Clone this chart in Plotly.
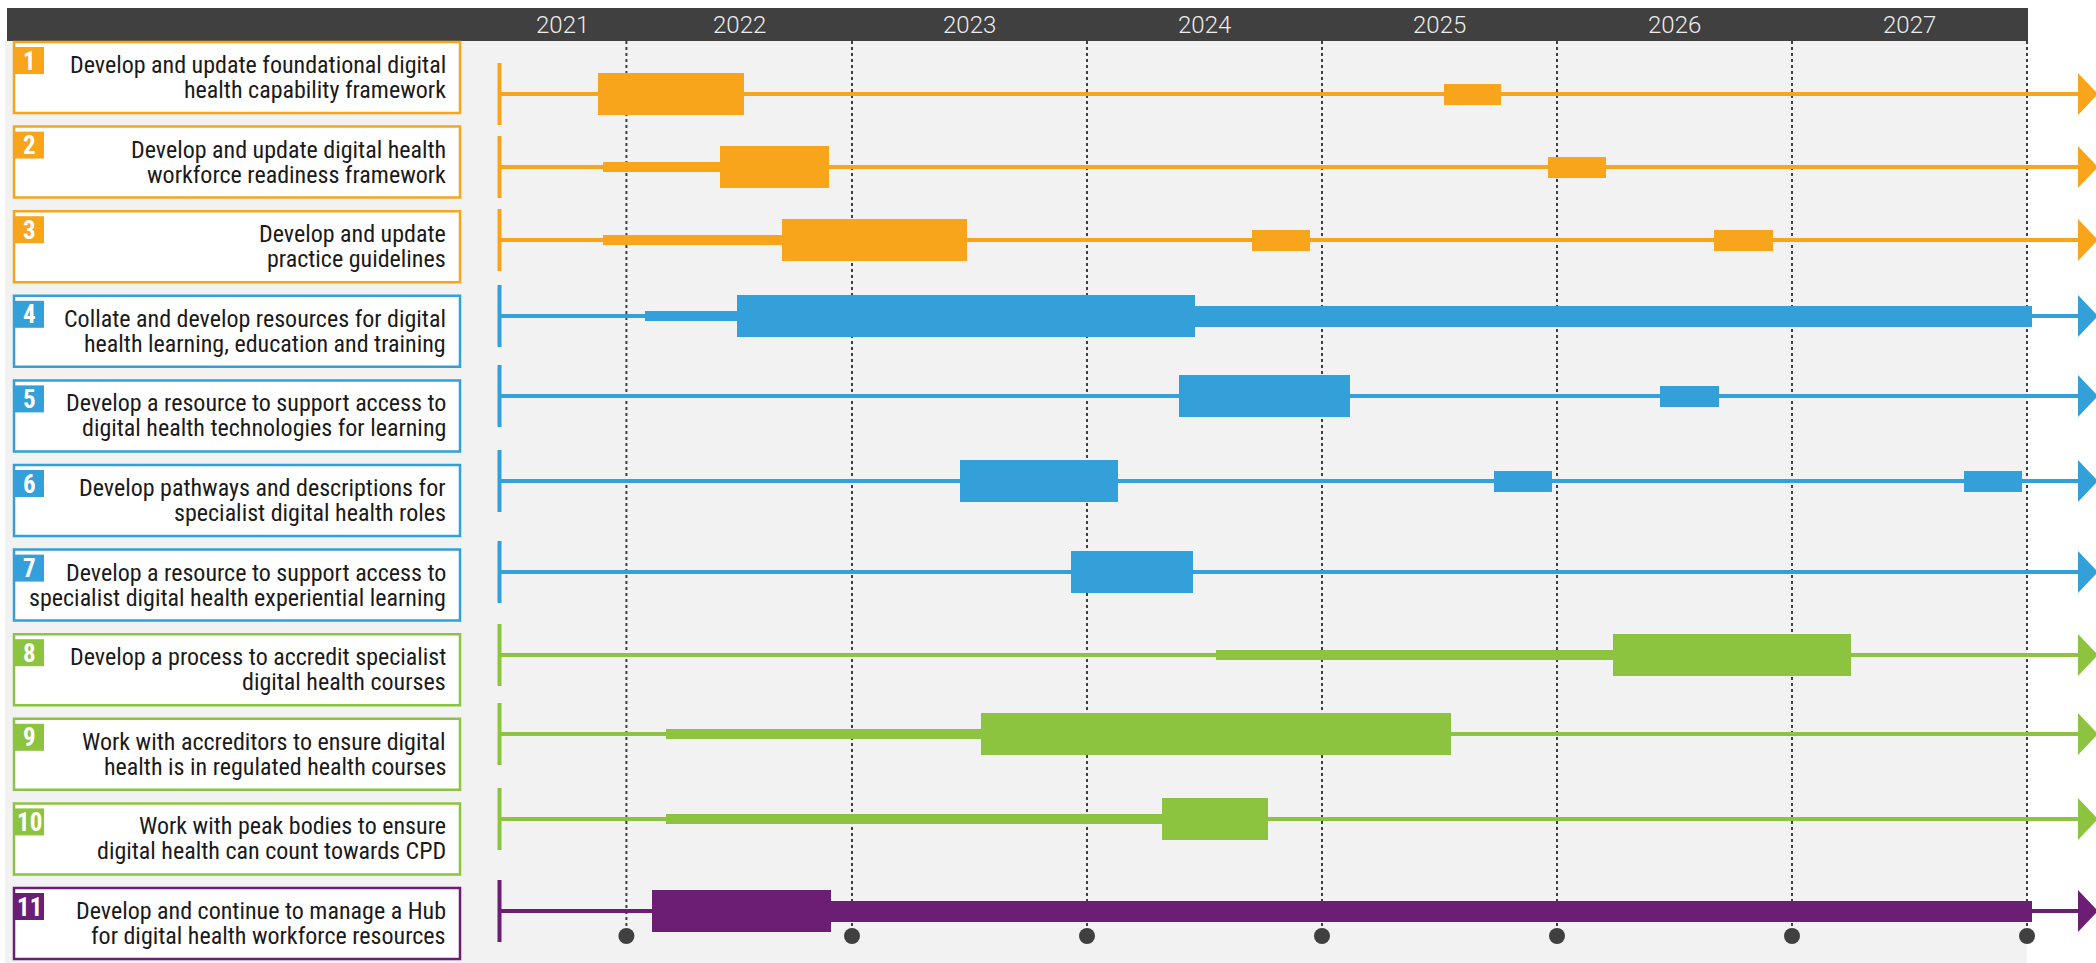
import plotly.graph_objects as go

# ---------------- data ----------------
task_ids = ["1", "2", "3", "4", "5", "6", "7", "8", "9", "10", "11"]
task_line1 = [
    "Develop and update foundational digital",
    "Develop and update digital health",
    "Develop and update",
    "Collate and develop resources for digital",
    "Develop a resource to support access to",
    "Develop pathways and descriptions for",
    "Develop a resource to support access to",
    "Develop a process to accredit specialist",
    "Work with accreditors to ensure digital",
    "Work with peak bodies to ensure",
    "Develop and continue to manage a Hub",
]
task_line2 = [
    "health capability framework",
    "workforce readiness framework",
    "practice guidelines",
    "health learning, education and training",
    "digital health technologies for learning",
    "specialist digital health roles",
    "specialist digital health experiential learning",
    "digital health courses",
    "health is in regulated health courses",
    "digital health can count towards CPD",
    "for digital health workforce resources",
]
task_group = ["foundation", "foundation", "foundation",
              "learning", "learning", "learning", "learning",
              "accreditation", "accreditation", "accreditation",
              "hub"]

# activity phases (task index, start year, end year, intensity)
phase_task = [0, 0,
              1, 1, 1,
              2, 2, 2, 2,
              3, 3, 3,
              4, 4,
              5, 5, 5,
              6,
              7, 7,
              8, 8,
              9, 9,
              10, 10]
phase_start = [2021.92, 2025.52,
               2021.94, 2022.44, 2025.96,
               2021.94, 2022.70, 2024.70, 2026.67,
               2022.12, 2022.51, 2024.46,
               2024.39, 2026.44,
               2023.46, 2025.73, 2027.73,
               2023.93,
               2024.55, 2026.24,
               2022.21, 2023.55,
               2022.21, 2024.32,
               2022.15, 2022.91]
phase_end = [2022.54, 2025.76,
             2022.44, 2022.90, 2026.21,
             2022.70, 2023.49, 2024.95, 2026.92,
             2022.51, 2024.46, 2028.02,
             2025.12, 2026.69,
             2024.13, 2025.98, 2027.98,
             2024.45,
             2026.24, 2027.25,
             2023.55, 2025.55,
             2024.32, 2024.77,
             2022.91, 2028.02]
phase_level = ["high", "medium",
               "low", "high", "medium",
               "low", "high", "medium", "medium",
               "low", "high", "medium",
               "high", "medium",
               "high", "medium", "medium",
               "high",
               "low", "high",
               "low", "high",
               "low", "high",
               "high", "medium"]

year_labels = ["2021", "2022", "2023", "2024", "2025", "2026", "2027"]
timeline_start = 2021.50
milestones = [2022.04, 2023.0, 2024.0, 2025.0, 2026.0, 2027.0, 2028.0]

# ---------------- style / layout ----------------
W, H = 2096, 963
group_color = {"foundation": "#F8A51C", "learning": "#33A0DA",
               "accreditation": "#8CC43F", "hub": "#6B1E74"}
level_thickness = {"low": 10, "medium": 21, "high": 42}
FONT = "Liberation Sans Narrow, Arial Narrow, Roboto Condensed, Liberation Sans, sans-serif"
YFONT = "Roboto, Open Sans, sans-serif"
DARK = "#404040"

# horizontal scale: year -> pixel (852 px at 2023, 235 px / year)
PX0, PXY = 852.0, 235.0
def yr(px):
    return 2023 + (px - PX0) / PXY

lane_y = [94, 167, 240, 316, 396, 481, 572, 655, 734, 819, 911]
box_top0, box_step, box_h = 42.0, 84.6, 71.0
box_x0, box_x1 = 14, 460
text_right = 448
line_end = yr(2078)
arrow_tip = yr(2098)

fig = go.Figure()

shapes = []
# light grey canvas
shapes.append(dict(type="rect", xref="paper", yref="y", x0=5 / W, x1=2027 / W, y0=41, y1=H,
                   fillcolor="#F2F2F2", line_width=0, layer="below"))
# header bar
shapes.append(dict(type="rect", xref="paper", yref="y", x0=7 / W, x1=2028 / W, y0=8, y1=41,
                   fillcolor=DARK, line_width=0, layer="below"))
# dotted year dividers
for m in milestones:
    shapes.append(dict(type="line", xref="x", yref="y", x0=m, x1=m, y0=41, y1=932,
                       line=dict(color=DARK, width=2, dash="dot"), layer="below"))

annotations = []
# year labels centred in each header segment
bounds = [timeline_start] + milestones
for i, lab in enumerate(year_labels):
    annotations.append(dict(x=(bounds[i] + bounds[i + 1]) / 2, y=25, xref="x", yref="y",
                            text=lab, showarrow=False, xanchor="center", yanchor="middle",
                            font=dict(family=YFONT, size=24, color="#EDEDED", weight=300)))

for i in range(len(task_ids)):
    c = group_color[task_group[i]]
    top = box_top0 + i * box_step
    # task box
    shapes.append(dict(type="rect", xref="paper", yref="y", x0=box_x0 / W, x1=box_x1 / W,
                       y0=top, y1=top + box_h, fillcolor="white",
                       line=dict(color=c, width=2.5), layer="below"))
    # number badge
    shapes.append(dict(type="rect", xref="paper", yref="y", x0=(box_x0 + 1) / W, x1=44 / W,
                       y0=top + 5, y1=top + 32, fillcolor=c, line_width=0, layer="above"))
    annotations.append(dict(x=29.5 / W, y=top + 19, xref="paper", yref="y", text="<b>%s</b>" % task_ids[i],
                            showarrow=False, xanchor="center", yanchor="middle",
                            font=dict(family=FONT, size=25, color="white")))
    cy = top + box_h / 2
    annotations.append(dict(x=text_right / W, y=cy - 12.5, xref="paper", yref="y", text=task_line1[i],
                            showarrow=False, xanchor="right", yanchor="middle",
                            font=dict(family=FONT, size=24, color="#1A1A1A", weight=400)))
    annotations.append(dict(x=text_right / W, y=cy + 12.5, xref="paper", yref="y", text=task_line2[i],
                            showarrow=False, xanchor="right", yanchor="middle",
                            font=dict(family=FONT, size=24, color="#1A1A1A", weight=400)))
    # arrow head at lane end
    ly = lane_y[i]
    shapes.append(dict(type="path", xref="x", yref="y",
                       path="M %f %f L %f %f L %f %f Z" % (line_end, ly - 21, arrow_tip, ly, line_end, ly + 21),
                       fillcolor=c, line_width=0, layer="above"))

# lanes: start tick + horizontal line
for i in range(len(task_ids)):
    c = group_color[task_group[i]]
    ly = lane_y[i]
    fig.add_trace(go.Scatter(
        x=[timeline_start, timeline_start, None, timeline_start, line_end],
        y=[ly - 31, ly + 31, None, ly, ly],
        mode="lines", line=dict(color=c, width=4), hoverinfo="skip", showlegend=False))

# activity bars
for lvl in ["low", "medium", "high"]:
    for g in group_color:
        idx = [k for k in range(len(phase_task))
               if phase_level[k] == lvl and task_group[phase_task[k]] == g]
        if not idx:
            continue
        fig.add_trace(go.Bar(
            orientation="h",
            y=[lane_y[phase_task[k]] for k in idx],
            base=[phase_start[k] for k in idx],
            x=[phase_end[k] - phase_start[k] for k in idx],
            width=[level_thickness[lvl]] * len(idx),
            marker=dict(color=group_color[g], line_width=0),
            showlegend=False, hoverinfo="skip"))

# milestone dots
fig.add_trace(go.Scatter(x=milestones, y=[936] * len(milestones), mode="markers",
                         marker=dict(size=16, color=DARK), showlegend=False, hoverinfo="skip"))

fig.update_layout(
    width=W, height=H, margin=dict(l=0, r=0, t=0, b=0),
    paper_bgcolor="white", plot_bgcolor="white",
    barmode="overlay", bargap=0,
    shapes=shapes, annotations=annotations,
    xaxis=dict(range=[yr(0), yr(W)], visible=False, showgrid=False, zeroline=False, fixedrange=True),
    yaxis=dict(range=[H, 0], visible=False, showgrid=False, zeroline=False, fixedrange=True),
)

fig.write_html("out.html", config={"displayModeBar": False},
               post_script="document.body.style.margin='0';document.body.style.overflow='hidden';")
